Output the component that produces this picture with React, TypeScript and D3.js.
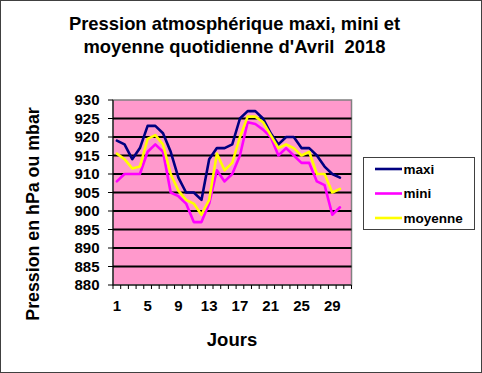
import React from "react";
import * as d3 from "d3";

const days = [1,2,3,4,5,6,7,8,9,10,11,12,13,14,15,16,17,18,19,20,21,22,23,24,25,26,27,28,29,30,31];
const maxi = [919,918,914,917,923,923,921,916,909,905,905,903,914,917,917,918,925,927,927,925,921,918,920,920,917,917,915,912,910,909];
const mini = [908,910,910,910,916,918,916,905,904,902,897,897,902,911,908,910,915,924,923.5,922,920,915,917,915,913,913,908,907,899,901];
const moyenne = [915.5,914,911.5,912,919.5,920.5,918,910,905.5,903,902,899,903,915.5,911,913,920,925.5,925.5,924,920.5,917,918,917,915,916,910,910,905,906];
const yTicks = [880,885,890,895,900,905,910,915,920,925,930];
const xLabels = [1,5,9,13,17,21,25,29];

const seriesNames = ["maxi", "mini", "moyenne"];
const seriesColors = ["#000080", "#FF00FF", "#FFFF00"];

const W = 482, H = 373;
const L = 113, R = 351.5, T = 100, B = 285;
const font = "Arial, 'Liberation Sans', sans-serif";

export default function App() {
  const x = d3.scaleBand<number>().domain(days).range([L, R]).padding(0);
  const y = d3.scaleLinear().domain([880, 930]).range([B, T]);
  const cx = (d: number) => (x(d) as number) + x.bandwidth() / 2;
  const line = (vals: number[]) =>
    d3.line<number>().x((_, i) => cx(days[i])).y((v) => y(v))(vals) as string;
  const allSeries = [maxi, mini, moyenne];
  const boundaries = days.map((d) => x(d) as number).concat([R]);

  return (
    <svg width={W} height={H} style={{ position: "absolute", left: 0, top: 0 }} fontFamily={font}>
      <rect x={0.5} y={0.5} width={W - 1} height={H - 1} fill="#fff" stroke="#404040" strokeWidth={1} />
      <text x={234.5} y={30} textAnchor="middle" fontSize={18.4} fontWeight="bold">Pression atmosphérique maxi, mini et</text>
      <text x={234.5} y={53} textAnchor="middle" fontSize={18.4} fontWeight="bold" style={{ whiteSpace: "pre" }}>moyenne quotidienne d'Avril  2018</text>

      <rect x={L} y={T} width={R - L} height={B - T} fill="#FF99CC" stroke="#808080" strokeWidth={1.5} />
      {yTicks.filter((v) => v > 880 && v < 930).map((v) => (
        <line key={v} x1={L} x2={R} y1={y(v)} y2={y(v)} stroke="#000" strokeWidth={2.2} />
      ))}
      <line x1={L} x2={L} y1={T} y2={B} stroke="#000" strokeWidth={1} />
      <line x1={L} x2={R} y1={B} y2={B} stroke="#000" strokeWidth={1} />
      {yTicks.map((v) => (
        <g key={v}>
          <line x1={L - 5} x2={L} y1={y(v)} y2={y(v)} stroke="#000" strokeWidth={1} />
          <text x={99.5} y={y(v)} dy="0.36em" textAnchor="end" fontSize={15} fontWeight="bold">{v}</text>
        </g>
      ))}
      {boundaries.map((b, i) => (
        <line key={i} x1={b} x2={b} y1={B} y2={B + 4} stroke="#000" strokeWidth={1} />
      ))}
      {xLabels.map((d) => (
        <text key={d} x={cx(d)} y={310.5} textAnchor="middle" fontSize={15} fontWeight="bold">{d}</text>
      ))}

      <defs>
        <clipPath id="plotclip"><rect x={L} y={T} width={R - L} height={B - T} /></clipPath>
      </defs>
      <g clipPath="url(#plotclip)">
        {allSeries.map((s, i) => (
          <path key={i} d={line(s)} fill="none" stroke={seriesColors[i]} strokeWidth={2.6} strokeLinejoin="round" strokeLinecap="round" />
        ))}
      </g>

      <text x={232} y={345.5} textAnchor="middle" fontSize={18.5} fontWeight="bold">Jours</text>
      <text transform="translate(38.5,214) rotate(-90)" textAnchor="middle" fontSize={17.8} fontWeight="bold">Pression en hPa ou mbar</text>

      <rect x={363.5} y={157.5} width={111} height={72} fill="#fff" stroke="#404040" strokeWidth={1} />
      {seriesNames.map((n, i) => (
        <g key={n}>
          <line x1={375} x2={402} y1={169 + i * 24.5} y2={169 + i * 24.5} stroke={seriesColors[i]} strokeWidth={2.6} />
          <text x={403.5} y={169 + i * 24.5} dy="0.35em" fontSize={13.5} fontWeight="bold">{n}</text>
        </g>
      ))}
    </svg>
  );
}
